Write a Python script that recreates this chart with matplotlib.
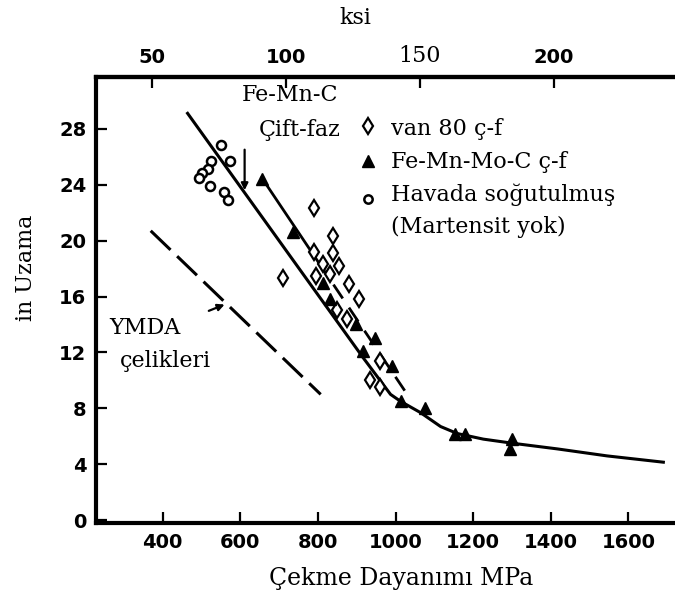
import matplotlib
matplotlib.use('Agg')
import matplotlib.pyplot as plt

# ---- data (MPa, % uzama) ----
# van 80 c-f (open diamonds)
van_mpa = [789, 838, 789, 838, 812, 853, 794, 832, 709, 879, 905, 850, 876, 961, 935, 961]
van_el  = [22.3, 20.3, 19.2, 19.1, 18.3, 18.2, 17.5, 17.6, 17.3, 16.9, 15.8, 15.0, 14.4, 11.4, 10.0, 9.5]

# Fe-Mn-Mo-C c-f (filled triangles)
mo_mpa = [657, 735, 814, 832, 897, 948, 917, 992, 1013, 1077, 1154, 1180, 1301, 1296]
mo_el  = [24.4, 20.6, 17.0, 15.8, 14.0, 13.0, 12.1, 11.0, 8.5, 8.0, 6.2, 6.2, 5.8, 5.1]

# Havada sogutulmus (open circles)
air_mpa = [549, 573, 525, 517, 502, 493, 522, 558, 568]
air_el  = [26.8, 25.7, 25.7, 25.1, 24.8, 24.5, 23.9, 23.5, 22.9]

# main trend curve
main_mpa = [464, 917, 987, 1013, 1064, 1116, 1159, 1226, 1303, 1417, 1545, 1690]
main_el  = [29.1, 11.6, 9.0, 8.5, 7.7, 6.7, 6.2, 5.8, 5.5, 5.1, 4.6, 4.15]

# Fe-Mn-Mo-C trend (solid part, dashed part)
mo_line_mpa = [655, 800]
mo_line_el  = [24.5, 18.5]
mo_dash_mpa = [800, 1030]
mo_dash_el  = [18.5, 9.0]

# YMDA celikleri (dashed)
ymda_mpa = [369, 807]
ymda_el  = [20.7, 9.0]

x_ticks = [400, 600, 800, 1000, 1200, 1400, 1600]
y_ticks = [0, 4, 8, 12, 16, 20, 24, 28]
ksi_ticks = [50, 100, 150, 200]

serif = 'DejaVu Serif'
tickfont = dict(family='DejaVu Sans', weight='bold', size=14)

fig = plt.figure(figsize=(6.75, 6), dpi=100)
ax = fig.add_axes([0.1422, 0.1283, 0.8578, 0.7434])

ax.plot(main_mpa, main_el, 'k-', lw=2.2)
ax.plot(mo_line_mpa, mo_line_el, 'k-', lw=2.0)
ax.plot(mo_dash_mpa, mo_dash_el, 'k-', lw=2.0, dashes=(6, 4))
ax.plot(ymda_mpa, ymda_el, 'k-', lw=2.2, dashes=(9, 3))

ax.plot(van_mpa, van_el, 'd', ms=8, mfc='white', mec='k', mew=1.6)
ax.plot(air_mpa, air_el, 'o', ms=6.5, mfc='white', mec='k', mew=1.8)
ax.plot(mo_mpa, mo_el, '^', ms=8, color='k')

# legend drawn by hand like the original
ax.plot([930], [28.2], 'd', ms=8, mfc='white', mec='k', mew=1.6)
ax.plot([930], [25.7], '^', ms=8, color='k')
ax.plot([930], [23.0], 'o', ms=6, mfc='white', mec='k', mew=1.8)
leg_txt = ['van 80 ç-f', 'Fe-Mn-Mo-C ç-f', 'Havada soğutulmuş', '(Martensit yok)']
leg_y = [28.0, 25.6, 23.3, 21.0]
for t, yy in zip(leg_txt, leg_y):
    ax.text(987, yy, t, family=serif, fontsize=16, va='center', ha='left')

ax.text(852, 30.4, 'Fe-Mn-C', family=serif, fontsize=16, va='center', ha='right')
ax.text(858, 27.9, 'Çift-faz', family=serif, fontsize=16, va='center', ha='right')
ax.annotate('', xy=(611, 23.4), xytext=(611, 26.7),
            arrowprops=dict(arrowstyle='-|>', color='k', lw=1.6, mutation_scale=10))

ax.text(262, 13.75, 'YMDA', family=serif, fontsize=16, va='center', ha='left')
ax.text(290, 11.4, 'çelikleri', family=serif, fontsize=16, va='center', ha='left')
ax.annotate('', xy=(566, 15.5), xytext=(512, 14.9),
            arrowprops=dict(arrowstyle='-|>', color='k', lw=1.6, mutation_scale=10))

ax.set_xlim(228, 1720)
ax.set_ylim(-0.2, 31.7)
ax.set_xticks(x_ticks)
ax.set_yticks(y_ticks)
ax.tick_params(direction='in', length=8, width=1.6, pad=7)
for lab in ax.get_xticklabels() + ax.get_yticklabels():
    lab.set_fontproperties(matplotlib.font_manager.FontProperties(**tickfont))

for s in ['left', 'bottom', 'top']:
    ax.spines[s].set_linewidth(3)
ax.spines['right'].set_visible(False)

sec = ax.secondary_xaxis('top', functions=(lambda m: (m - 27) / 6.9, lambda k: 6.9 * k + 27))
sec.set_xticks(ksi_ticks)
sec.tick_params(direction='in', length=8, width=1.6, pad=7)
sec.spines['top'].set_linewidth(3)
for lab in sec.get_xticklabels():
    if lab.get_text() == '150':
        lab.set_family(serif)
        lab.set_fontsize(16)
    else:
        lab.set_fontproperties(matplotlib.font_manager.FontProperties(**tickfont))

fig.text(355 / 675, 1 - 18 / 600, 'ksi', family=serif, fontsize=16, ha='center', va='center')
fig.text(401 / 675, 1 - 578 / 600, 'Çekme Dayanımı MPa', family=serif, fontsize=17, ha='center', va='center')
fig.text(26 / 675, 1 - 268 / 600, 'in Uzama', family=serif, fontsize=16, ha='center', va='center', rotation=90)

fig.savefig('out.png', dpi=100)
